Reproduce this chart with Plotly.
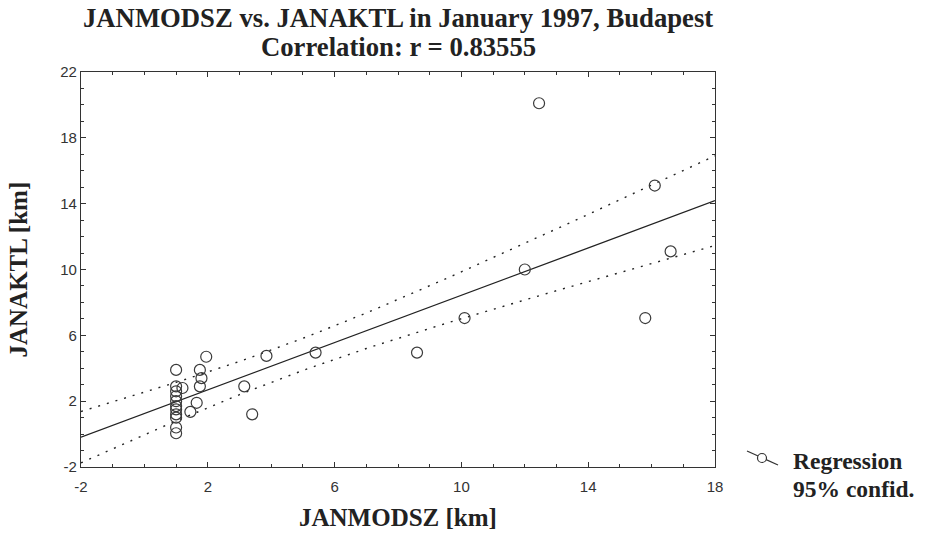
import numpy as np
import plotly.graph_objects as go

janmodsz = [1.0, 1.0, 1.0, 1.0, 1.0, 1.0, 1.0, 1.0, 1.0, 1.0, 1.0,
            1.2, 1.45, 1.65, 1.75, 1.8, 1.75, 1.95,
            3.15, 3.4, 3.85, 5.4, 8.6,
            10.1, 12.0, 12.45, 15.8, 16.1, 16.6]
janaktl = [3.9, 2.9, 2.6, 2.3, 2.0, 1.7, 1.5, 1.2, 1.0, 0.4, 0.05,
           2.8, 1.35, 1.9, 2.9, 3.4, 3.9, 4.7,
           2.9, 1.2, 4.75, 4.95, 4.95,
           7.05, 10.0, 20.1, 7.05, 15.1, 11.1]

title_lines = ["JANMODSZ vs. JANAKTL in January 1997, Budapest",
               "Correlation: r = 0.83555"]
legend_labels = ["Regression", "95% confid."]
x_range = [-2, 18]
y_range = [-2, 22]
x_tickvals = [-2, 2, 6, 10, 14, 18]
x_ticktext = ["-2", "2", "6", "10", "14", "18"]
y_tickvals = [-2, 2, 6, 10, 14, 18, 22]
y_ticktext = ["-2", "2", "6", "10", "14", "18", "22"]

# Linear regression with 95% confidence band for the mean
x = np.array(janmodsz)
y = np.array(janaktl)
n = len(x)
slope, intercept = np.polyfit(x, y, 1)
resid = y - (slope * x + intercept)
s = np.sqrt(np.sum(resid ** 2) / (n - 2))
sxx = np.sum((x - x.mean()) ** 2)
t_crit = 2.052  # t(0.975, df=27)
xg = np.linspace(x_range[0], x_range[1], 81)
yg = slope * xg + intercept
hw = t_crit * s * np.sqrt(1.0 / n + (xg - x.mean()) ** 2 / sxx)

SERIF = "Liberation Serif, Times New Roman, serif"
SANS = "Liberation Sans, Arial, sans-serif"
INK = "#222222"

fig = go.Figure()
fig.add_trace(go.Scatter(x=xg, y=yg + hw, mode="lines",
                         line=dict(color=INK, width=1.4, dash="2px,7px"),
                         hoverinfo="skip", showlegend=False))
fig.add_trace(go.Scatter(x=xg, y=yg - hw, mode="lines",
                         line=dict(color=INK, width=1.4, dash="2px,7px"),
                         hoverinfo="skip", showlegend=False))
fig.add_trace(go.Scatter(x=xg, y=yg, mode="lines",
                         line=dict(color=INK, width=1.3),
                         hoverinfo="skip", showlegend=False))
fig.add_trace(go.Scatter(x=janmodsz, y=janaktl, mode="markers",
                         marker=dict(symbol="circle-open", size=11,
                                     color="#3a3a3a", line=dict(width=1.2)),
                         showlegend=False))

L, R, T, B = 81, 214, 72, 67
W, H = 929, 534
pw, ph = W - L - R, H - T - B


def px(xp):
    return (xp - L) / pw


def py(yp):
    return (H - B - yp) / ph


axis_common = dict(
    showline=True, linecolor="#333333", linewidth=1.3, mirror="allticks",
    ticks="inside", ticklen=5, tickcolor="#333333", tickwidth=1,
    showgrid=False, zeroline=False,
    tickfont=dict(family=SANS, size=15, color="#333333"),
    tickmode="array",
    minor=dict(dtick=1, tick0=-2, ticks="inside", ticklen=3, tickcolor="#333333"),
)

fig.update_layout(
    width=W, height=H,
    margin=dict(l=L, r=R, t=T, b=B),
    paper_bgcolor="white", plot_bgcolor="white",
    xaxis=dict(range=x_range, tickvals=x_tickvals, ticktext=x_ticktext,
               ticklabelstandoff=6, **axis_common),
    yaxis=dict(range=y_range, tickvals=y_tickvals, ticktext=y_ticktext,
               **axis_common),
    showlegend=False,
)

annotations = [
    dict(text="<b>%s</b>" % title_lines[0], x=0.5, y=py(18), xref="paper", yref="paper",
         showarrow=False, xanchor="center", yanchor="middle",
         font=dict(family=SERIF, size=26.7, color=INK)),
    dict(text="<b>%s</b>" % title_lines[1], x=0.5, y=py(47), xref="paper", yref="paper",
         showarrow=False, xanchor="center", yanchor="middle",
         font=dict(family=SERIF, size=26.7, color=INK)),
    dict(text="<b>JANMODSZ [km]</b>", x=0.5, y=py(517), xref="paper", yref="paper",
         showarrow=False, xanchor="center", yanchor="middle",
         font=dict(family=SERIF, size=25, color=INK)),
    dict(text="<b>JANAKTL [km]</b>", x=px(18), y=0.5, xref="paper", yref="paper",
         showarrow=False, xanchor="center", yanchor="middle", textangle=-90,
         font=dict(family=SERIF, size=25, color=INK)),
    dict(text="<b>%s</b>" % legend_labels[0], x=px(791), y=py(461), xref="paper", yref="paper",
         showarrow=False, xanchor="left", yanchor="middle",
         font=dict(family=SERIF, size=23.5, color=INK)),
    dict(text="<b>%s</b>" % legend_labels[1], x=px(791), y=py(489), xref="paper", yref="paper",
         showarrow=False, xanchor="left", yanchor="middle",
         font=dict(family=SERIF, size=23.5, color=INK)),
]
fig.update_layout(annotations=annotations)

# legend key: line through an open circle
fig.add_shape(type="line", xref="paper", yref="paper",
              x0=px(747), y0=py(451), x1=px(778), y1=py(465),
              line=dict(color="#333333", width=1.2))
fig.add_shape(type="circle", xref="paper", yref="paper",
              x0=px(757.5), y0=py(453.5), x1=px(766.5), y1=py(462.5),
              fillcolor="white", line=dict(color="#333333", width=1.2))

fig.write_html("out.html")
